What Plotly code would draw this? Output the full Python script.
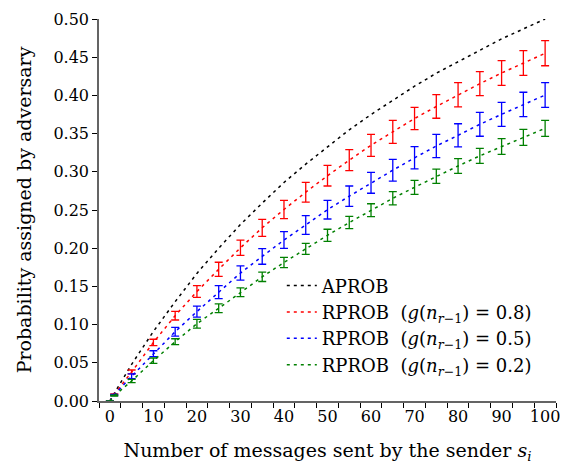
import plotly.graph_objects as go

# valores
mensajes = [0, 1, 5, 10, 15, 20, 25, 30, 35, 40, 45, 50, 55, 60, 65, 70, 75, 80, 85, 90, 95, 100]

aprob = [0, 0.010, 0.048, 0.091, 0.130, 0.167, 0.200, 0.231, 0.259, 0.286, 0.310,
         0.333, 0.355, 0.375, 0.394, 0.412, 0.429, 0.444, 0.459, 0.474, 0.487, 0.500]

rprob_08 = [0, 0.0085, 0.038, 0.0766, 0.1117, 0.1433, 0.1724, 0.2005, 0.2267, 0.2507, 0.2733,
            0.2949, 0.3152, 0.3347, 0.3523, 0.3698, 0.3855, 0.4008, 0.4153, 0.4293, 0.4424, 0.4552]
err_08 = [0, 0.0008, 0.0026, 0.0042, 0.0057, 0.0076, 0.0092, 0.0100, 0.0111, 0.0120, 0.0129,
          0.0135, 0.0137, 0.0144, 0.0151, 0.0145, 0.0154, 0.0159, 0.0157, 0.0161, 0.0161, 0.0164]

rprob_05 = [0, 0.0080, 0.0323, 0.0619, 0.0907, 0.1171, 0.1424, 0.1675, 0.1892, 0.2107, 0.2304,
            0.2504, 0.2681, 0.2856, 0.3021, 0.3183, 0.3338, 0.3477, 0.3622, 0.3752, 0.3881, 0.4005]
err_05 = [0, 0.0008, 0.0031, 0.0039, 0.0057, 0.0072, 0.0085, 0.0094, 0.0102, 0.0109, 0.0122,
          0.0122, 0.0133, 0.0137, 0.0142, 0.0146, 0.0153, 0.0152, 0.0157, 0.0157, 0.0160, 0.0161]

rprob_02 = [0, 0.0070, 0.0262, 0.0528, 0.0776, 0.1012, 0.1213, 0.1423, 0.1625, 0.1813, 0.1992,
            0.2169, 0.2336, 0.2497, 0.2653, 0.2797, 0.2942, 0.3076, 0.3209, 0.3331, 0.3451, 0.3569]
err_02 = [0, 0.0006, 0.0022, 0.0035, 0.0039, 0.0057, 0.0057, 0.0057, 0.0061, 0.0068, 0.0072,
          0.0079, 0.0081, 0.0085, 0.0087, 0.0092, 0.0094, 0.0096, 0.0098, 0.0102, 0.0105, 0.0105]

x_ticks = [0, 10, 20, 30, 40, 50, 60, 70, 80, 90, 100]
y_ticks = [0, 0.05, 0.10, 0.15, 0.20, 0.25, 0.30, 0.35, 0.40, 0.45, 0.50]

series = [
    ('APROB', aprob, None, 'black'),
    ('RPROB  (<i>g</i>(<i>n</i><sub><i>r</i>−1</sub>) = 0.8)', rprob_08, err_08, 'rgb(255,0,0)'),
    ('RPROB  (<i>g</i>(<i>n</i><sub><i>r</i>−1</sub>) = 0.5)', rprob_05, err_05, 'rgb(0,0,255)'),
    ('RPROB  (<i>g</i>(<i>n</i><sub><i>r</i>−1</sub>) = 0.2)', rprob_02, err_02, 'rgb(0,128,0)'),
]

serif = 'DejaVu Serif'

fig = go.Figure()
for name, values, err, color in series:
    fig.add_trace(go.Scatter(
        x=mensajes, y=values, name=name, mode='lines',
        line=dict(color=color, width=1.5, dash='3px,4px'),
    ))
    if err is not None:
        # barras de error aparte para que no salgan en la leyenda
        fig.add_trace(go.Scatter(
            x=mensajes, y=values, mode='markers', showlegend=False,
            marker=dict(size=1, color=color, opacity=0),
            error_y=dict(type='data', array=err, visible=True, color=color,
                         thickness=1.3, width=4),
        ))

# la pagina tiene 8px de margen en el body
fig.update_layout(
    width=568, height=456,
    margin=dict(l=91, r=20, t=11, b=63),
    paper_bgcolor='white', plot_bgcolor='white',
    font=dict(family=serif, size=16, color='black'),
    showlegend=True,
    legend=dict(
        x=0.40, y=0.35, xanchor='left', yanchor='top',
        bgcolor='rgba(0,0,0,0)', font=dict(family=serif, size=18),
        tracegroupgap=0, itemwidth=30,
    ),
)
fig.update_xaxes(
    range=[-2.5, 102.5], showgrid=False, zeroline=False, automargin=False,
    showline=True, linecolor='rgb(100,100,100)', linewidth=1.5,
    tickvals=x_ticks, ticks='outside', ticklen=0,
    minor=dict(ticks='outside', tick0=-2.5, dtick=5, ticklen=5,
               tickcolor='black', tickwidth=1),
    title=dict(text='Number of messages sent by the sender <i>s</i><sub><i>i</i></sub>',
               font=dict(family=serif, size=19), standoff=22),
)
fig.update_yaxes(
    range=[0, 0.5], showgrid=False, zeroline=False, automargin=False,
    showline=True, linecolor='rgb(100,100,100)', linewidth=1.5,
    tickvals=y_ticks, tickformat='.2f',
    ticks='outside', ticklen=5, tickcolor='black', tickwidth=1,
    title=dict(text='Probability assigned by adversary',
               font=dict(family=serif, size=19), standoff=17),
)

fig.write_html("out.html")
